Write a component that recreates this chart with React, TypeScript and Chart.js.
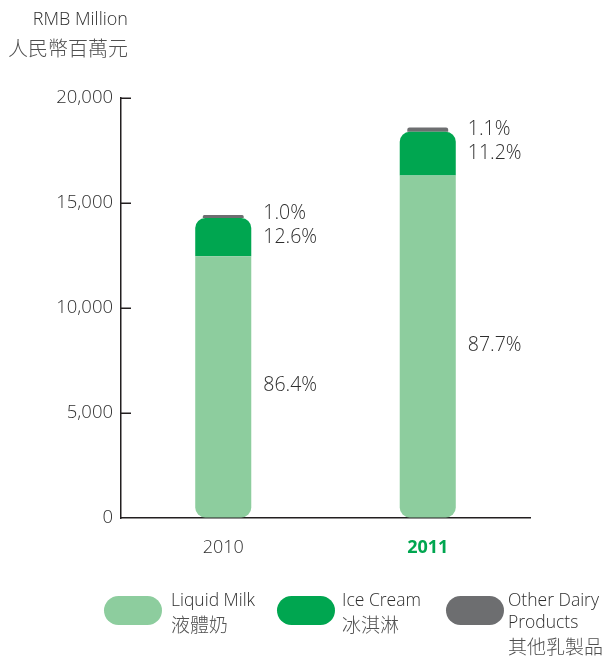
import React, { useEffect, useRef } from 'react';
import { Chart, registerables } from 'chart.js';

Chart.register(...registerables);

const categories = ['2010', '2011'];
const liquidMilk = [12470, 16312];
const iceCream = [1818, 2083];
const otherDairy = [144, 205];
const pctLiquidMilk = ['86.4%', '87.7%'];
const pctIceCream = ['12.6%', '11.2%'];
const pctOther = ['1.0%', '1.1%'];
const yTicks = [0, 5000, 10000, 15000, 20000];
const unitLines = ['RMB Million', '人民幣百萬元'];
const legendLines = [
  ['Liquid Milk', '液體奶'],
  ['Ice Cream', '冰淇淋'],
  ['Other Dairy', 'Products', '其他乳製品'],
];

const LIGHT = '#8dcd9e';
const GREEN = '#00a650';
const GREY = '#6d6e70';
const TEXT = '#2e2e2e';
const CJK_TEXT = '#505050';
const AXIS = '#231f20';
const FONT = '"Open Sans", "Noto Sans CJK TC", sans-serif';
const CJK_FONT = '"Noto Sans CJK TC", sans-serif';
const seriesColors = [LIGHT, GREEN, GREY];

const isCJK = (s: string) => /[\u3400-\u9fff]/.test(s);

const decor = {
  id: 'decor',
  afterDraw(chart: any) {
    const ctx = chart.ctx;
    const ys = chart.scales.y;
    const area = chart.chartArea;
    ctx.save();
    ctx.strokeStyle = AXIS;
    ctx.lineWidth = 1.5;
    yTicks.forEach((t) => {
      if (t === 0) return;
      const py = Math.round(ys.getPixelForValue(t)) + 0.25;
      ctx.beginPath();
      ctx.moveTo(area.left, py);
      ctx.lineTo(area.left + 10, py);
      ctx.stroke();
    });

    ctx.fillStyle = TEXT;
    ctx.textBaseline = 'middle';
    ctx.textAlign = 'left';
    ctx.font = `300 19.5px ${FONT}`;
    const m0 = chart.getDatasetMeta(0);
    const m1 = chart.getDatasetMeta(1);
    categories.forEach((_, i) => {
      const b0 = m0.data[i];
      const b1 = m1.data[i];
      const x = b0.x + b0.width / 2 + 12;
      ctx.fillText(pctLiquidMilk[i], x, (b0.y + b0.base) / 2 - 1);
      const icMid = (b1.y + b1.base) / 2;
      ctx.fillText(pctIceCream[i], x, icMid);
      ctx.fillText(pctOther[i], x, icMid - 24);
    });

    const setFor = (s: string, latinSize: number, cjkSize: number) => {
      if (isCJK(s)) {
        ctx.font = `300 ${cjkSize}px ${CJK_FONT}`;
        ctx.fillStyle = CJK_TEXT;
      } else {
        ctx.font = `300 ${latinSize}px ${FONT}`;
        ctx.fillStyle = TEXT;
      }
    };

    ctx.textAlign = 'right';
    setFor(unitLines[0], 18, 20);
    ctx.fillText(unitLines[0], 128, 20);
    setFor(unitLines[1], 18, 20);
    ctx.fillText(unitLines[1], 128, 48);

    const pillX = [104, 277, 446];
    const textX = [171, 342, 508];
    ctx.textAlign = 'left';
    legendLines.forEach((lines, i) => {
      ctx.fillStyle = seriesColors[i];
      ctx.beginPath();
      ctx.roundRect(pillX[i], 596, 58, 29, 14.5);
      ctx.fill();
      lines.forEach((ln, j) => {
        setFor(ln, 17.5, 19);
        ctx.fillText(ln, textX[i], 601 + j * 22.5 + (isCJK(ln) ? 1 : 0));
      });
    });
    ctx.restore();
  },
};

export default function App() {
  const ref = useRef<HTMLCanvasElement>(null);
  useEffect(() => {
    if (!ref.current) return;
    const chart = new Chart(ref.current, {
      type: 'bar',
      data: {
        labels: categories,
        datasets: [
          {
            label: 'Liquid Milk',
            data: liquidMilk,
            backgroundColor: LIGHT,
            borderSkipped: false,
            borderRadius: { topLeft: 0, topRight: 0, bottomLeft: 10, bottomRight: 10 },
            barPercentage: 0.274,
            categoryPercentage: 1,
          },
          {
            label: 'Ice Cream',
            data: iceCream,
            backgroundColor: GREEN,
            borderSkipped: false,
            borderRadius: { topLeft: 10, topRight: 10, bottomLeft: 0, bottomRight: 0 },
            barPercentage: 0.274,
            categoryPercentage: 1,
          },
          {
            label: 'Other Dairy Products',
            data: otherDairy,
            backgroundColor: GREY,
            borderSkipped: false,
            borderRadius: { topLeft: 3, topRight: 3, bottomLeft: 0, bottomRight: 0 },
            barPercentage: 0.2,
            categoryPercentage: 1,
          },
        ],
      },
      options: {
        responsive: false,
        animation: false,
        devicePixelRatio: 1,
        layout: { padding: { top: 98, right: 75, left: 0, bottom: 0 } },
        plugins: { legend: { display: false }, tooltip: { enabled: false } },
        scales: {
          x: {
            stacked: true,
            offset: true,
            grid: { display: false, drawTicks: false },
            border: { display: true, color: AXIS, width: 1.5 },
            ticks: {
              padding: 19,
              color: (c: any) => (c.index === 1 ? GREEN : TEXT),
              font: (c: any) => ({ size: 18, family: FONT, weight: c.index === 1 ? 'bold' : '300' }),
            },
            afterFit: (s: any) => {
              s.height = 657 - 518;
            },
          },
          y: {
            stacked: true,
            min: 0,
            max: 20000,
            grid: { display: true, drawOnChartArea: false, drawTicks: false },
            border: { display: true, color: AXIS, width: 1.5 },
            afterBuildTicks: (s: any) => {
              s.ticks = yTicks.map((v) => ({ value: v }));
            },
            ticks: {
              padding: 8,
              color: TEXT,
              font: { size: 18.5, family: FONT, weight: '300' },
              callback: (v: any) => Number(v).toLocaleString('en-US'),
            },
            afterFit: (s: any) => {
              s.width = 121;
            },
          },
        },
      },
      plugins: [decor],
    });
    return () => chart.destroy();
  }, []);
  return (
    <div style={{ position: 'absolute', left: 0, top: 0, width: 605, height: 657, background: '#fff' }}>
      <canvas ref={ref} width={605} height={657} style={{ display: 'block', width: 605, height: 657 }} />
    </div>
  );
}
